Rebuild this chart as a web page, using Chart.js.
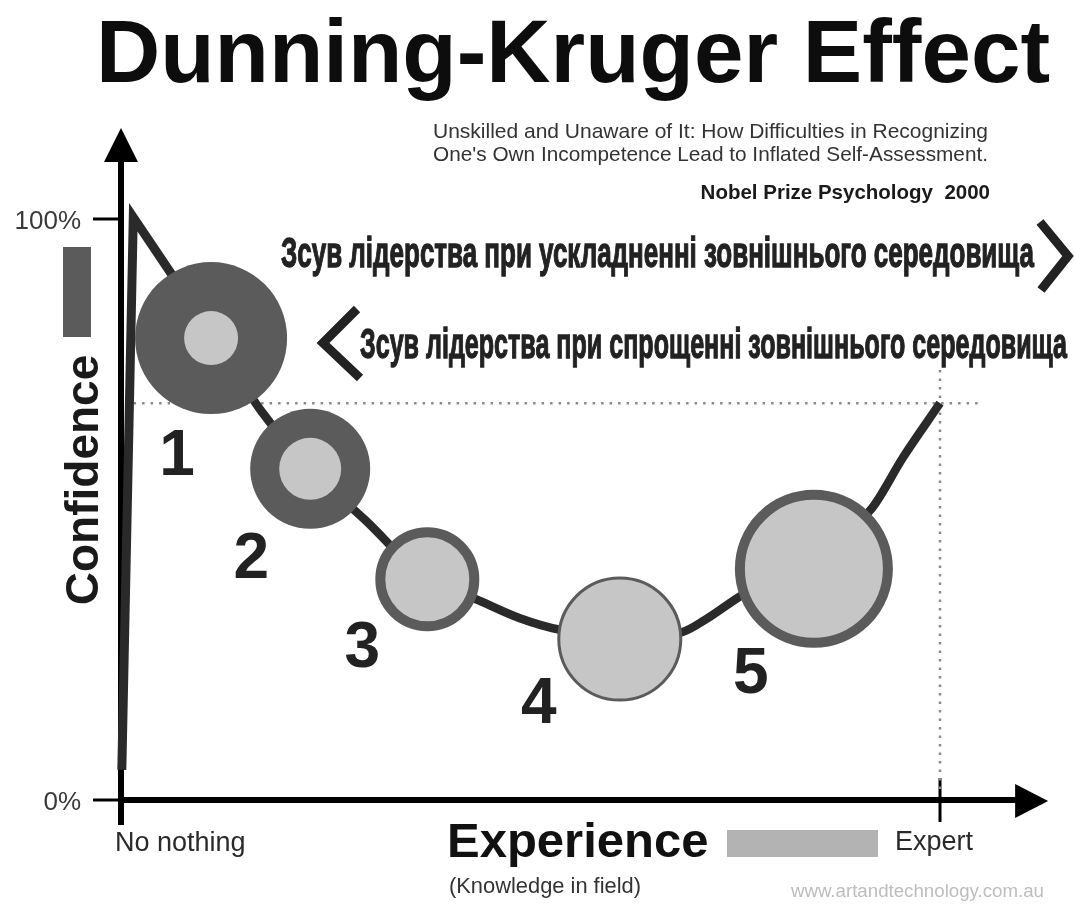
<!DOCTYPE html>
<html><head><meta charset="utf-8">
<script src="https://cdn.jsdelivr.net/npm/chart.js@4.4.0/dist/chart.umd.min.js"></script>
<style>html,body{margin:0;padding:0;background:#fff;}canvas{display:block;}</style>
</head><body>
<canvas id="c" width="1074" height="909"></canvas>
<script>
// ---- text ----
const titleText = "Dunning-Kruger Effect";
const subtitleLines = ["Unskilled and Unaware of It: How Difficulties in Recognizing",
                       "One's Own Incompetence Lead to Inflated Self-Assessment."];
const creditText = "Nobel Prize Psychology  2000";
const shiftLabels = ["Зсув лідерства при ускладненні зовнішнього середовища",
                     "Зсув лідерства при спрощенні зовнішнього середовища"];
const yTickValues = [0, 100];
const yTickLabels = ["0%", "100%"];
const xTickValues = [0, 100];
const xTickLabels = ["No nothing", "Expert"];
const xAxisTitle = "Experience";
const xAxisSubtitle = "(Knowledge in field)";
const yAxisTitle = "Confidence";
const sourceText = "www.artandtechnology.com.au";

// ---- curve (experience vs confidence) ----
const climbX = [0.1, 1.5, 11.0];
const climbY = [5.2, 100.3, 80.4];
const curveX = [11.0, 17.2, 23.1, 29.8, 37.4, 43.6, 48.7, 53.6, 60.9, 68.5, 71.3, 75.3, 83.8, 91.5, 95.5, 100];
const curveY = [80.4, 66.8, 57.0, 48.2, 38.0, 34.4, 31.3, 29.3, 28.0, 28.9, 31.0, 34.8, 42.0, 49.9, 59.0, 68.3];

// ---- stages (bubbles) ----
const stageLabels = ["1", "2", "3", "4", "5"];
const stageX = [11.0, 23.1, 37.4, 60.9, 84.6];
const stageY = [79.5, 57.0, 38.0, 27.7, 39.8];
const stageR = [76, 60, 47, 61, 74];
const coreR = [27, 31];

// ---- expert reference ----
const expertX = 100;
const expertY = 68.3;

// axis extents (data units)
const X_MAX = 104.15, Y_MAX = 115.66, X_ARROW = 113.2;

const DARK = '#5b5b5b', LIGHT = '#c6c6c6', INK = '#2a2a2a';

const pts = (xs, ys) => xs.map((x, i) => ({x, y: ys[i]}));

const overlay = {
  id: 'overlay',
  beforeDraw(chart) {
    const c = chart.ctx;
    c.save();
    c.fillStyle = '#fff';
    c.fillRect(0, 0, chart.width, chart.height);
    c.restore();
  },
  beforeDatasetsDraw(chart) {
    const c = chart.ctx, xs = chart.scales.x, ys = chart.scales.y;
    const x0 = xs.getPixelForValue(0), y0 = ys.getPixelForValue(0);
    const yTop = chart.chartArea.top, xRight = xs.getPixelForValue(X_ARROW);
    c.save();
    c.strokeStyle = '#000'; c.fillStyle = '#000';
    // y axis
    c.lineWidth = 6; c.lineCap = 'butt';
    c.beginPath(); c.moveTo(x0, y0 + 25); c.lineTo(x0, yTop + 32); c.stroke();
    c.beginPath(); c.moveTo(x0, yTop); c.lineTo(x0 - 17, yTop + 34); c.lineTo(x0 + 17, yTop + 34); c.closePath(); c.fill();
    // x axis
    c.beginPath(); c.moveTo(x0, y0); c.lineTo(xRight - 30, y0); c.stroke();
    c.beginPath(); c.moveTo(xRight, y0 + 1); c.lineTo(xRight - 33, y0 - 16); c.lineTo(xRight - 33, y0 + 18); c.closePath(); c.fill();
    // y ticks
    c.lineWidth = 3;
    yTickValues.forEach((v) => {
      const py = ys.getPixelForValue(v);
      c.beginPath(); c.moveTo(x0 - 28, py); c.lineTo(x0, py); c.stroke();
    });
    // x tick at expert
    const px = xs.getPixelForValue(xTickValues[1]);
    c.beginPath(); c.moveTo(px, y0 - 22); c.lineTo(px, y0 + 22); c.stroke();
    c.restore();
  },
  afterDraw(chart) {
    const c = chart.ctx, xs = chart.scales.x, ys = chart.scales.y;
    const F = '"Liberation Sans", Arial, sans-serif';
    c.save();
    c.textBaseline = 'alphabetic';
    // title
    c.fillStyle = '#0d0d0d'; c.textAlign = 'center';
    c.font = 'bold 89px ' + F;
    c.fillText(titleText, 573, 82, 960);
    // subtitle
    c.fillStyle = '#333'; c.textAlign = 'left';
    c.font = '21px ' + F;
    c.fillText(subtitleLines[0], 433, 138, 555);
    c.fillText(subtitleLines[1], 433, 161, 555);
    c.font = 'bold 20.5px ' + F; c.textAlign = 'right'; c.fillStyle = '#1a1a1a';
    c.fillText(creditText, 990, 199);
    // shift labels
    c.fillStyle = '#222'; c.strokeStyle = '#222'; c.lineWidth = 1.3; c.textAlign = 'left';
    c.font = 'bold 43px ' + F;
    c.fillText(shiftLabels[0], 281, 267, 753);
    c.strokeText(shiftLabels[0], 281, 267, 753);
    c.fillText(shiftLabels[1], 360, 358, 707);
    c.strokeText(shiftLabels[1], 360, 358, 707);
    // chevrons
    c.lineWidth = 9; c.lineJoin = 'miter'; c.lineCap = 'butt';
    c.beginPath(); c.moveTo(1040, 222); c.lineTo(1068, 256); c.lineTo(1041, 290); c.stroke();
    c.beginPath(); c.moveTo(357, 309); c.lineTo(323, 343); c.lineTo(360, 378); c.stroke();
    // y tick labels
    c.fillStyle = '#3a3a3a'; c.textAlign = 'right'; c.font = '26px ' + F;
    yTickValues.forEach((v, i) => {
      c.fillText(yTickLabels[i], 81, ys.getPixelForValue(v) + 10);
    });
    // x tick labels
    c.textAlign = 'left'; c.font = '27px ' + F; c.fillStyle = '#2a2a2a';
    c.fillText(xTickLabels[0], xs.getPixelForValue(xTickValues[0]) - 6, 851, 134);
    c.fillText(xTickLabels[1], xs.getPixelForValue(xTickValues[1]) - 45, 850, 82);
    // confidence bar + title
    c.fillStyle = DARK; c.fillRect(63, 247, 28, 90);
    c.save();
    c.translate(98, 480); c.rotate(-Math.PI / 2);
    c.fillStyle = '#1a1a1a'; c.textAlign = 'center'; c.font = 'bold 46px ' + F;
    c.fillText(yAxisTitle, 0, 0, 252);
    c.restore();
    // experience
    c.fillStyle = '#111'; c.textAlign = 'left'; c.font = 'bold 49px ' + F;
    c.fillText(xAxisTitle, 447, 857, 266);
    c.fillStyle = '#333'; c.font = '22px ' + F;
    c.fillText(xAxisSubtitle, 449, 893, 192);
    c.fillStyle = '#b3b3b3'; c.fillRect(727, 830, 151, 27);
    c.fillStyle = '#bdbdbd'; c.font = '18.7px ' + F; c.textAlign = 'right';
    c.fillText(sourceText, 1044, 897);
    // stage numbers
    const meta = chart.getDatasetMeta(3);
    const off = [[-34, 137], [-59, 109], [-65, 88], [-81, 84], [-63, 124]];
    c.fillStyle = '#222'; c.textAlign = 'center'; c.font = 'bold 64px ' + F;
    meta.data.forEach((el, i) => {
      c.fillText(stageLabels[i], el.x + off[i][0], el.y + off[i][1]);
    });
    c.restore();
  }
};

new Chart(document.getElementById('c'), {
  type: 'line',
  data: {
    datasets: [
      { label: 'expert-h', data: [{x: 0.5, y: expertY}, {x: 104.6, y: expertY}],
        borderColor: '#8a8a8a', borderWidth: 2.5, borderDash: [2.5, 6], pointRadius: 0, order: 6, clip: false },
      { label: 'expert-v', data: [{x: expertX, y: 74}, {x: expertX, y: 1.5}],
        borderColor: '#8a8a8a', borderWidth: 2.5, borderDash: [2.5, 6], pointRadius: 0, order: 6, clip: false },
      { label: 'climb', data: pts(climbX, climbY), borderColor: INK, borderWidth: 9,
        tension: 0, pointRadius: 0, borderCapStyle: 'butt', borderJoinStyle: 'miter', order: 4, clip: false },
      { type: 'bubble', label: 'stages',
        data: stageX.map((x, i) => ({x, y: stageY[i], r: stageR[i]})),
        backgroundColor: [DARK, DARK, LIGHT, LIGHT, LIGHT], borderColor: DARK,
        borderWidth: [0, 0, 10, 3, 10], hoverBorderWidth: [0, 0, 10, 3, 10], order: 2, clip: false },
      { type: 'bubble', label: 'cores',
        data: coreR.map((r, i) => ({x: stageX[i], y: stageY[i], r})),
        backgroundColor: LIGHT, borderWidth: 0, order: 1, clip: false },
      { label: 'curve', data: pts(curveX, curveY), borderColor: INK, borderWidth: 8.5,
        cubicInterpolationMode: 'monotone', pointRadius: 0, borderCapStyle: 'butt', order: 4, clip: false }
    ]
  },
  options: {
    responsive: false, animation: false, devicePixelRatio: 1,
    layout: { padding: { left: 121, right: 100, top: 128, bottom: 109 } },
    scales: {
      x: { type: 'linear', min: 0, max: X_MAX, display: false },
      y: { type: 'linear', min: 0, max: Y_MAX, display: false }
    },
    plugins: { legend: { display: false }, tooltip: { enabled: false } },
    events: []
  },
  plugins: [overlay]
});
</script>
</body></html>
